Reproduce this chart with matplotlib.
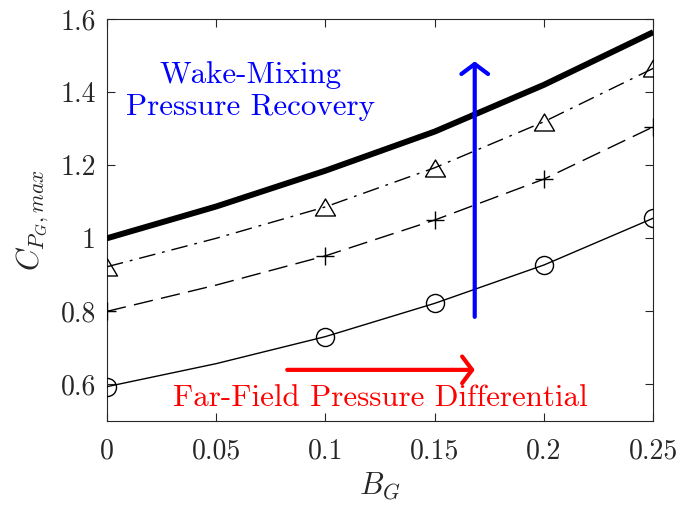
import matplotlib
matplotlib.use("Agg")
import matplotlib.pyplot as plt
from matplotlib.path import Path

plt.rcParams["font.family"] = ["cmr10"]
plt.rcParams["mathtext.fontset"] = "cm"
plt.rcParams["axes.formatter.use_mathtext"] = True

# Gap parameter values
b_g = [0.0, 0.05, 0.10, 0.15, 0.20, 0.25]

# Combined maximum pressure coefficient (thick curve)
cp_total = [1.000, 1.087, 1.185, 1.292, 1.420, 1.564]
# Wake-mixing case (triangles)
cp_wake = [0.922, 1.000, 1.086, 1.193, 1.319, 1.465]
# Intermediate case (plus signs)
cp_mid = [0.800, 0.872, 0.952, 1.050, 1.162, 1.305]
# Far-field only case (circles)
cp_far = [0.594, 0.657, 0.731, 0.822, 0.927, 1.055]

marked = [0, 2, 3, 4, 5]

x_ticks = [0, 0.05, 0.1, 0.15, 0.2, 0.25]
x_ticklabels = ["0", "0.05", "0.1", "0.15", "0.2", "0.25"]
y_ticks = [0.6, 0.8, 1.0, 1.2, 1.4, 1.6]
y_ticklabels = ["0.6", "0.8", "1", "1.2", "1.4", "1.6"]

axis_gray = "#262626"

fig = plt.figure(figsize=(6.81, 5.07), dpi=100)
ax = fig.add_axes([0.157, 0.1696, 0.8023, 0.7929])

tri = Path([(-1, -0.85), (1, -0.85), (0, 0.85), (-1, -0.85)],
           [Path.MOVETO, Path.LINETO, Path.LINETO, Path.CLOSEPOLY])

ax.plot(b_g, cp_total, color="black", lw=4.3, solid_capstyle="butt", zorder=3)
ax.plot(b_g, cp_wake, color="black", lw=1.0, dashes=(12, 5, 2, 5),
        marker=tri, ms=14.4, mfc="none", mec="black", mew=1.0,
        markevery=marked, zorder=3)
ax.plot(b_g, cp_mid, color="black", lw=1.0, dashes=(14, 6),
        marker="+", ms=13, mec="black", mew=1.0,
        markevery=marked, zorder=3)
ax.plot(b_g, cp_far, color="black", lw=1.0,
        marker="o", ms=13, mfc="none", mec="black", mew=1.0,
        markevery=marked, zorder=3)

# Annotation arrows
ax.annotate("", xy=(0.1683, 1.484), xytext=(0.1683, 0.785),
            arrowprops=dict(arrowstyle="->,head_length=0.36,head_width=0.48",
                            color="blue", lw=3, shrinkA=0, shrinkB=0,
                            mutation_scale=20),
            zorder=4)
ax.annotate("", xy=(0.1683, 0.640), xytext=(0.0825, 0.640),
            arrowprops=dict(arrowstyle="->,head_length=0.36,head_width=0.48",
                            color="red", lw=3, shrinkA=0, shrinkB=0,
                            mutation_scale=20),
            zorder=4)

ax.text(0.0659, 1.403, "Wake-Mixing\nPressure Recovery", color="blue",
        fontsize=22.3, ha="center", va="center", linespacing=1.2)
ax.text(0.1253, 0.563, "Far-Field Pressure Differential", color="red",
        fontsize=22.3, ha="center", va="center")

ax.set_xlim(0, 0.25)
ax.set_ylim(0.5, 1.6)
ax.set_xticks(x_ticks)
ax.set_xticklabels(x_ticklabels)
ax.set_yticks(y_ticks)
ax.set_yticklabels(y_ticklabels)

ax.tick_params(direction="in", top=True, right=True, length=6, width=0.8,
               color=axis_gray, labelcolor=axis_gray, labelsize=20)
ax.tick_params(axis="x", pad=12)
ax.tick_params(axis="y", pad=8)
for s in ax.spines.values():
    s.set_color(axis_gray)
    s.set_linewidth(0.8)

ax.set_xlabel(r"$B_G$", fontsize=22, color=axis_gray, labelpad=5)
ax.set_ylabel(r"$C_{P_G,max}$", fontsize=22, color=axis_gray, labelpad=7)

fig.savefig("out.png", dpi=100)
